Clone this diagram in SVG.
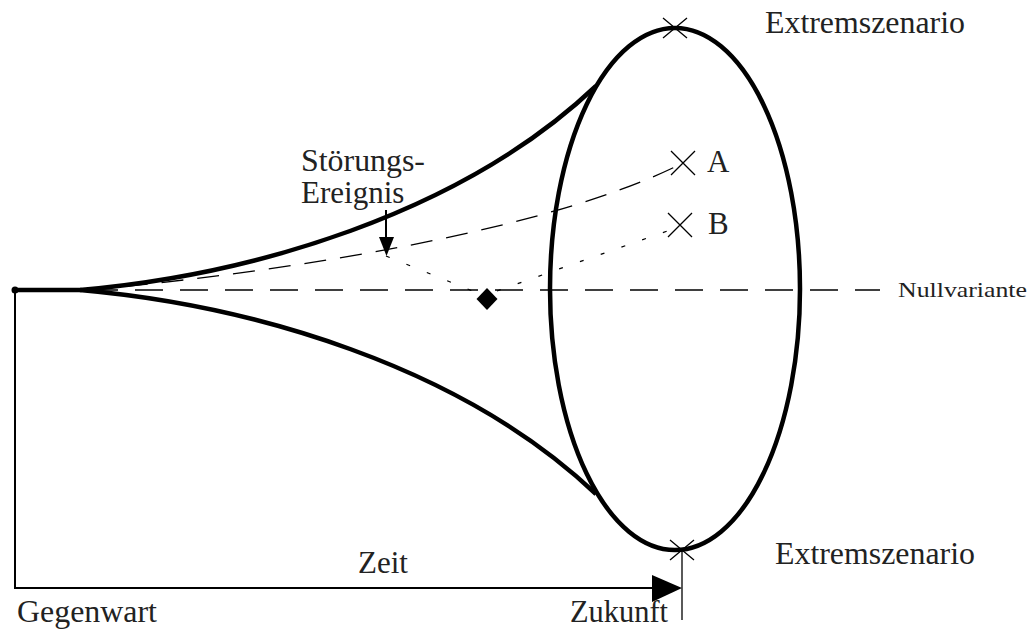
<svg xmlns="http://www.w3.org/2000/svg" width="1035" height="630" viewBox="0 0 1035 630">
<style>
text{font-family:"Liberation Serif","Times New Roman",serif;fill:#222}
.lbl{font-size:31px}
.thick{fill:none;stroke:#000;stroke-width:4.5}
.thin{fill:none;stroke:#000;stroke-width:2}
.hair{fill:none;stroke:#000;stroke-width:1.3}
</style>
<rect width="1035" height="630" fill="#fff"/>
<g id="connectors">
  <path class="hair" d="M90,290 H880" stroke-dasharray="28 17"/>
  <path class="hair" d="M90,290 C300,270 550,230 683,163" stroke-dasharray="22 14"/>
  <path class="hair" d="M386,256 L480,294" stroke-dasharray="4 18" stroke-width="2"/>
  <path class="hair" d="M497,291 Q570,265 676,228" stroke-dasharray="4 18" stroke-width="2"/>
  <path class="thin" d="M15,290 V588 H654"/>
  <path d="M652,575 L682,588 L652,602 Z" fill="#000"/>
  <path class="hair" d="M682,550 V620"/>
  <path class="thin" d="M386,210 V240"/>
  <path d="M379,237 L394,237 L386.5,256 Z" fill="#000"/>
</g>
<g id="funnel">
  <path class="thick" d="M15,290 H80 C250,275 460,215 596,86"/>
  <path class="thick" d="M80,290 C250,305 460,365 596,494"/>
  <circle cx="15" cy="290" r="3.5" fill="#000"/>
</g>
<g id="ellipse">
  <ellipse class="thick" cx="675" cy="289" rx="125" ry="261"/>
</g>
<g id="diamond">
  <path d="M487,288 L497.5,299 L487,310 L476.5,299 Z" fill="#000"/>
</g>
<g id="crosses">
  <path class="hair" d="M663,18 L687,38 M687,18 L663,38"/>
  <path class="hair" d="M670,540 L694,560 M694,540 L670,560"/>
  <path class="hair" d="M671,151 L695,175 M695,151 L671,175"/>
  <path class="hair" d="M668,213 L692,237 M692,213 L668,237"/>
</g>
<g id="labels">
  <text class="lbl" x="765" y="33" textLength="200" lengthAdjust="spacingAndGlyphs">Extremszenario</text>
  <text class="lbl" x="775" y="564" textLength="200" lengthAdjust="spacingAndGlyphs">Extremszenario</text>
  <text class="lbl" x="707" y="172">A</text>
  <text class="lbl" x="708" y="234">B</text>
  <text class="lbl" x="301" y="171" textLength="124" lengthAdjust="spacingAndGlyphs">Störungs-</text>
  <text class="lbl" x="301" y="203">Ereignis</text>
  <text x="898" y="297" font-size="21" textLength="129" lengthAdjust="spacingAndGlyphs">Nullvariante</text>
  <text class="lbl" x="358" y="573">Zeit</text>
  <text class="lbl" x="17" y="622" textLength="140" lengthAdjust="spacingAndGlyphs">Gegenwart</text>
  <text class="lbl" x="570" y="622" textLength="98" lengthAdjust="spacingAndGlyphs">Zukunft</text>
</g>
</svg>
